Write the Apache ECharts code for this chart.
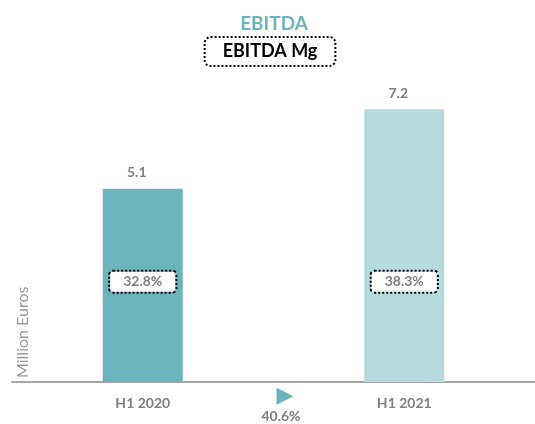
<!DOCTYPE html>
<html>
<head>
<meta charset="utf-8">
<script src="https://cdn.jsdelivr.net/npm/echarts@6/dist/echarts.min.js"></script>
<style>
  html, body { margin: 0; padding: 0; background: #fff; }
  #main { width: 535px; height: 424px; }
</style>
</head>
<body>
<div id="main"></div>
<script>
// 数据
var categories = ['H1 2020', 'H1 2021'];
var ebitda = [5.1, 7.2];          // Million Euros
var margins = [32.8, 38.3];       // EBITDA Mg %
var growth = 40.6;                // % H1 2020 -> H1 2021

var barColors = ['#6cb4bb', '#b6dbdf'];
var grey = '#7f7f7f';
var MARGIN_LABEL_Y = 2.65; // 标签放置的高度（轴单位）

var chart = echarts.init(document.getElementById('main'));
chart.setOption({
  animation: false,
  title: [
    {
      text: 'EBITDA',
      left: 274, top: 14, textAlign: 'center', padding: 0,
      textStyle: { color: '#6cb4bb', fontSize: 19, fontWeight: 'bold', fontFamily: 'Lato' }
    },
    {
      text: '{b|EBITDA Mg}',
      left: 270, top: 37, textAlign: 'center', padding: 0,
      textStyle: {
        lineHeight: 29,
        rich: {
          b: {
            color: '#000', fontSize: 18, fontFamily: 'Lato', lineHeight: 29, height: 29,
            padding: [0, 18], borderColor: '#000', borderWidth: 2,
            borderType: [2, 2], borderRadius: 6
          }
        }
      }
    },
    {
      text: '▶',
      left: 285, top: 385, textAlign: 'center', padding: 0,
      textStyle: { color: '#6cb4bb', fontSize: 22, fontFamily: 'DejaVu Sans', fontWeight: 'normal' }
    },
    {
      text: growth.toFixed(1) + '%',
      left: 281, top: 409, textAlign: 'center', padding: 0,
      textStyle: { color: grey, fontSize: 14, fontWeight: 'bold', fontFamily: 'Lato' }
    }
  ],
  graphic: [
    {
      type: 'text', x: 15, y: 378, rotation: Math.PI / 2,
      style: { text: 'Million Euros', fill: '#999', font: '16px Lato', textAlign: 'left', textVerticalAlign: 'top' }
    }
  ],
  grid: { left: 12, width: 530, top: 79, bottom: 42 },
  xAxis: {
    type: 'category',
    data: categories,
    axisTick: { show: false },
    axisLine: { lineStyle: { color: '#a6a6a6', width: 2 } },
    axisLabel: { color: grey, fontSize: 14, fontWeight: 'bold', fontFamily: 'Lato', margin: 14 }
  },
  yAxis: {
    type: 'value', min: 0, max: 8,
    show: false
  },
  series: [
    {
      type: 'bar',
      barWidth: 80,
      data: ebitda.map(function (v, i) {
        return { value: v, itemStyle: { color: barColors[i] } };
      }),
      label: {
        show: true, position: 'top', distance: 9, offset: [-6, 0],
        color: grey, fontSize: 14, fontWeight: 'bold', fontFamily: 'Lato'
      }
    },
    {
      type: 'scatter',
      symbolSize: 1,
      itemStyle: { color: 'rgba(0,0,0,0)', opacity: 1 },
      z: 5,
      data: margins.map(function (m, i) {
        return { value: [i, MARGIN_LABEL_Y], name: m.toFixed(1) + '%' };
      }),
      label: {
        show: true, position: 'inside',
        formatter: function (p) { return p.name; },
        color: grey, fontSize: 14, fontWeight: 'bold', fontFamily: 'Lato', lineHeight: 14,
        backgroundColor: '#fff', borderColor: '#000', borderWidth: 2, borderType: [2, 2],
        borderRadius: 3, padding: [3, 13]
      }
    }
  ]
});
</script>
</body>
</html>
